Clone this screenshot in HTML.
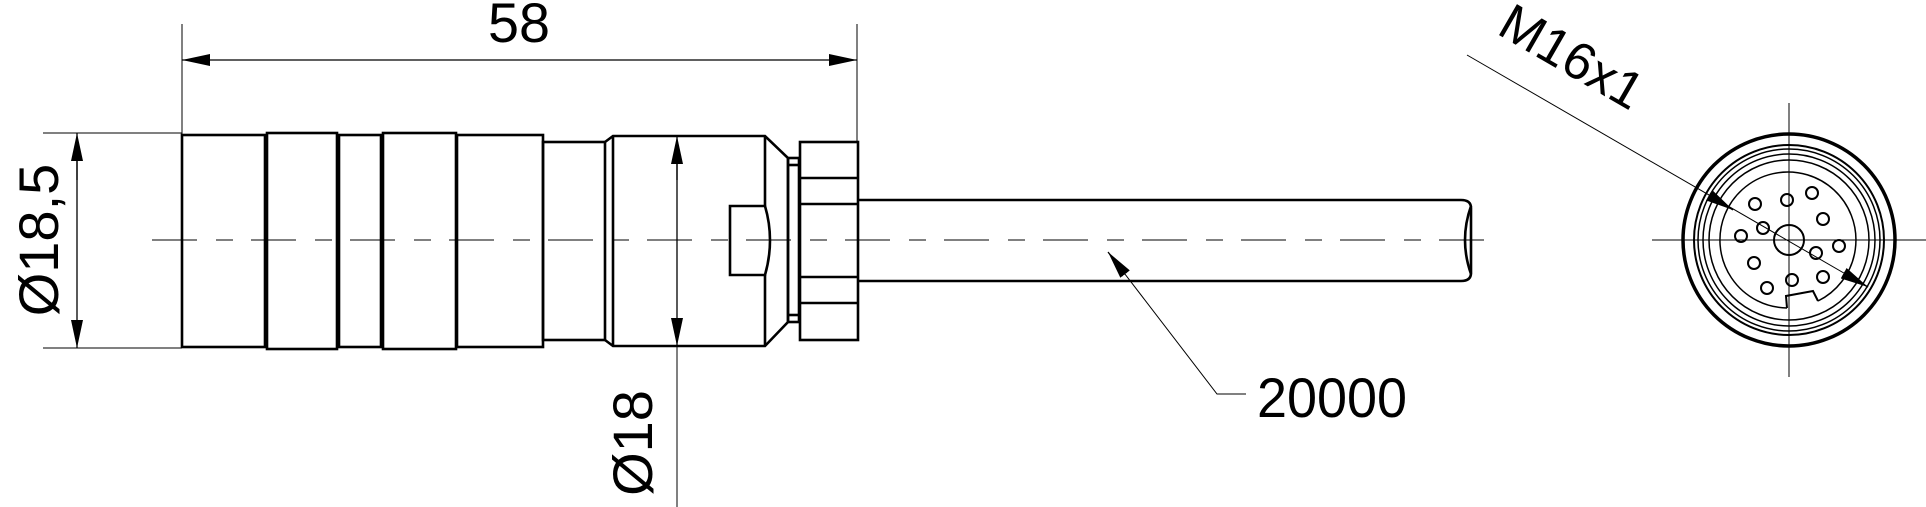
<!DOCTYPE html>
<html><head><meta charset="utf-8"><style>html,body{margin:0;padding:0;background:#fff}svg{display:block}</style></head>
<body>
<svg width="1926" height="507" viewBox="0 0 1926 507" xmlns="http://www.w3.org/2000/svg" font-family="Liberation Sans, sans-serif">
<defs>
<marker id="a" viewBox="0 0 28 12" refX="28" refY="6" markerWidth="28" markerHeight="12" markerUnits="userSpaceOnUse" orient="auto"><path d="M0,0 L28,6 L0,12 z" fill="#000"/></marker>
</defs>
<g stroke="#000" fill="none">
<line x1="182" y1="24" x2="182" y2="134" stroke-width="1"/>
<line x1="857" y1="24" x2="857" y2="142" stroke-width="1"/>
<line x1="200" y1="60" x2="182" y2="60" stroke-width="1.3" marker-end="url(#a)"/>
<line x1="190" y1="60" x2="857" y2="60" stroke-width="1.3" marker-end="url(#a)"/>
<line x1="43" y1="133" x2="182" y2="133" stroke-width="1"/>
<line x1="43" y1="348" x2="182" y2="348" stroke-width="1"/>
<line x1="77" y1="180" x2="77" y2="133" stroke-width="1.3" marker-end="url(#a)"/>
<line x1="77" y1="140" x2="77" y2="348" stroke-width="1.3" marker-end="url(#a)"/>
<g stroke-width="2.6">
<rect x="182" y="135" width="83" height="212"/>
<rect x="267" y="133" width="70" height="216"/>
<rect x="339" y="135" width="42" height="212"/>
<rect x="383" y="133" width="73" height="216"/>
<rect x="457" y="135" width="86" height="212"/>
<rect x="543" y="142" width="62" height="198"/>
<path d="M605,142 L613,136 L765,136 L788,158 L788,322 L765,346 L613,346 L605,340"/>
<line x1="613" y1="136" x2="613" y2="346"/>
<line x1="765" y1="136" x2="765" y2="206"/>
<line x1="765" y1="275" x2="765" y2="346"/>
<rect x="788" y="158" width="11" height="164"/>
<line x1="788" y1="165" x2="799" y2="165"/>
<line x1="788" y1="315" x2="799" y2="315"/>
<rect x="800" y="142" width="58" height="198"/>
<line x1="800" y1="178" x2="858" y2="178"/>
<line x1="800" y1="204" x2="858" y2="204"/>
<line x1="800" y1="277" x2="858" y2="277"/>
<line x1="800" y1="303" x2="858" y2="303"/>
<path d="M765,206 L730,206 L730,275 L765,275 Q775,240 765,206"/>
<path d="M858,200 L1461,200 Q1471,200 1471,208 L1471,273 Q1471,281 1461,281 L858,281"/>
<path d="M1471,206 Q1459,240 1471,274"/>
</g>
<line x1="152" y1="240" x2="1500" y2="240" stroke-width="1" stroke-dasharray="45,19,17,18"/>
<line x1="677" y1="180" x2="677" y2="136" stroke-width="1.3" marker-end="url(#a)"/>
<line x1="677" y1="150" x2="677" y2="346" stroke-width="1.3" marker-end="url(#a)"/>
<line x1="677" y1="346" x2="677" y2="507" stroke-width="1"/>
<path d="M1246,394 L1217,394 L1118,265" stroke-width="1"/>
<line x1="1125" y1="274" x2="1108" y2="252" stroke-width="1.3" marker-end="url(#a)"/>
<line x1="1789" y1="103" x2="1789" y2="377" stroke-width="1"/>
<line x1="1652" y1="240" x2="1926" y2="240" stroke-width="1"/>
<circle cx="1789" cy="240" r="106" stroke-width="3.5"/>
<circle cx="1789" cy="240" r="95" stroke-width="2"/>
<circle cx="1789" cy="240" r="91" stroke-width="1.5"/>
<circle cx="1789" cy="240" r="86" stroke-width="1.5"/>
<circle cx="1789" cy="240" r="80" stroke-width="1.5"/>
<path d="M1787,308 A68,68 0 1 1 1818,301" stroke-width="1.5"/>
<path d="M1787,308 L1786,296 L1813,291 L1818,301" stroke-width="2"/>
<circle cx="1789" cy="240" r="15" stroke-width="2"/>
<g stroke-width="2">
<circle cx="1755" cy="204" r="6"/><circle cx="1787" cy="200" r="6"/><circle cx="1812" cy="193" r="6"/>
<circle cx="1823" cy="219" r="6"/><circle cx="1839" cy="246" r="6"/><circle cx="1816" cy="253" r="6"/>
<circle cx="1823" cy="277" r="6"/><circle cx="1792" cy="280" r="6"/><circle cx="1767" cy="288" r="6"/>
<circle cx="1754" cy="263" r="6"/><circle cx="1741" cy="236" r="6"/><circle cx="1763" cy="228" r="6"/>
</g>
<line x1="1467" y1="55" x2="1868" y2="287" stroke-width="1"/>
<line x1="1712" y1="197" x2="1733" y2="210" stroke-width="1.3" marker-end="url(#a)"/>
<line x1="1845" y1="274" x2="1868" y2="287" stroke-width="1.3" marker-end="url(#a)"/>
</g>
<g fill="#000" font-size="56">
<text x="519" y="42" text-anchor="middle" textLength="62" lengthAdjust="spacingAndGlyphs">58</text>
<text x="1257" y="417" textLength="150" lengthAdjust="spacingAndGlyphs">20000</text>
<text transform="translate(58,240) rotate(-90)" text-anchor="middle">Ø18,5</text>
<text transform="translate(652,443) rotate(-90)" text-anchor="middle">Ø18</text>
<text transform="translate(1563,72) rotate(30)" text-anchor="middle" font-size="52">M16x1</text>
</g>
</svg>
</body></html>
